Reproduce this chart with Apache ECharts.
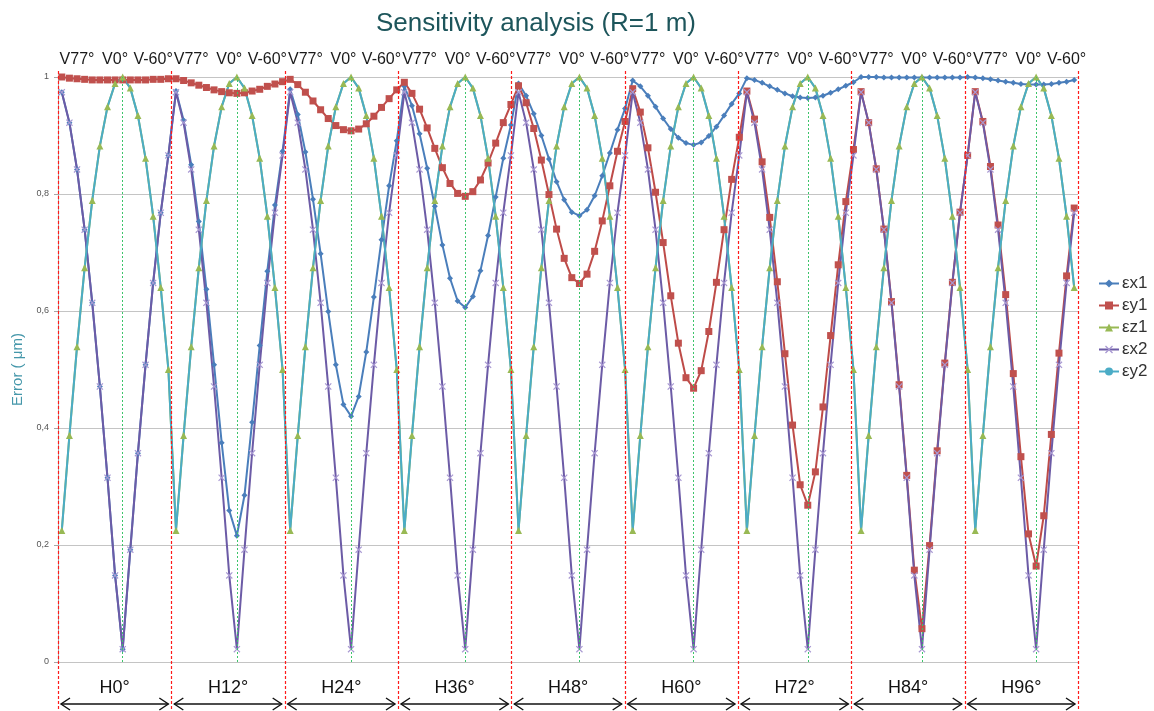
<!DOCTYPE html>
<html>
<head>
<meta charset="utf-8">
<script src="https://cdn.jsdelivr.net/npm/echarts@6/dist/echarts.min.js"></script>
<style>html,body{margin:0;padding:0;background:#fff;}#c{width:1154px;height:711px;}</style>
</head>
<body>
<div id="c"></div>
<script>
// ---- data ----
const hLabels = ['H0°','H12°','H24°','H36°','H48°','H60°','H72°','H84°','H96°'];
const vSamples = ['77°','67°','57°','48°','38°','28°','18°','9°','-1°','-11°','-21°','-31°','-40°','-50°','-60°'];
const vTopLabels = ['','','V77°','','','','','V0°','','','','','V-60°','',''];
const v0Sample = 8;
const yTicks = ['0','0,2','0,4','0,6','0,8','1'];

const ex1 = [
 0.974,0.922,0.842,0.739,0.614,0.471,0.315,0.148,0.022,0.192,0.357,0.508,0.648,0.768,0.866,
 0.976,0.926,0.850,0.753,0.637,0.508,0.375,0.259,0.216,0.285,0.410,0.541,0.668,0.781,0.873,
 0.979,0.936,0.872,0.791,0.698,0.599,0.508,0.440,0.420,0.454,0.530,0.624,0.722,0.814,0.891,
 0.984,0.951,0.903,0.844,0.779,0.713,0.656,0.617,0.606,0.625,0.669,0.729,0.795,0.861,0.918,
 0.989,0.968,0.937,0.900,0.860,0.821,0.790,0.769,0.763,0.773,0.797,0.831,0.870,0.910,0.946,
 0.994,0.984,0.968,0.949,0.929,0.911,0.896,0.887,0.884,0.888,0.899,0.915,0.934,0.954,0.972,
 0.998,0.995,0.990,0.984,0.978,0.972,0.967,0.965,0.964,0.965,0.968,0.973,0.979,0.985,0.991,
 1.000,1.000,1.000,0.999,0.999,0.999,0.999,0.999,0.999,0.999,0.999,0.999,0.999,0.999,1.000,
 0.999,0.998,0.996,0.994,0.992,0.990,0.988,0.987,0.987,0.987,0.988,0.990,0.992,0.995
];
const ey1 = [
 1.000,0.998,0.997,0.996,0.995,0.995,0.995,0.995,0.995,0.995,0.995,0.995,0.996,0.996,0.997,
 0.997,0.994,0.990,0.986,0.982,0.978,0.975,0.973,0.972,0.973,0.976,0.979,0.984,0.988,0.992,
 0.996,0.987,0.974,0.959,0.944,0.929,0.917,0.910,0.908,0.911,0.920,0.933,0.948,0.963,0.978,
 0.991,0.972,0.945,0.913,0.878,0.845,0.818,0.801,0.796,0.804,0.824,0.853,0.887,0.922,0.953,
 0.985,0.956,0.912,0.858,0.799,0.740,0.690,0.657,0.647,0.663,0.702,0.754,0.814,0.873,0.924,
 0.980,0.940,0.879,0.803,0.717,0.626,0.545,0.486,0.468,0.498,0.565,0.649,0.739,0.825,0.897,
 0.976,0.928,0.855,0.760,0.650,0.527,0.405,0.303,0.268,0.325,0.436,0.558,0.679,0.787,0.876,
 0.975,0.922,0.843,0.740,0.616,0.474,0.319,0.157,0.057,0.199,0.361,0.511,0.649,0.769,0.866,
 0.975,0.924,0.847,0.747,0.628,0.493,0.351,0.219,0.164,0.250,0.389,0.528,0.660,0.776
];
const ez1 = [
 0.225,0.387,0.539,0.674,0.789,0.882,0.949,0.989,1.000,0.981,0.934,0.861,0.762,0.640,0.500,
 0.225,0.387,0.539,0.674,0.789,0.882,0.949,0.989,1.000,0.981,0.934,0.861,0.762,0.640,0.500,
 0.225,0.387,0.539,0.674,0.789,0.882,0.949,0.989,1.000,0.981,0.934,0.861,0.762,0.640,0.500,
 0.225,0.387,0.539,0.674,0.789,0.882,0.949,0.989,1.000,0.981,0.934,0.861,0.762,0.640,0.500,
 0.225,0.387,0.539,0.674,0.789,0.882,0.949,0.989,1.000,0.981,0.934,0.861,0.762,0.640,0.500,
 0.225,0.387,0.539,0.674,0.789,0.882,0.949,0.989,1.000,0.981,0.934,0.861,0.762,0.640,0.500,
 0.225,0.387,0.539,0.674,0.789,0.882,0.949,0.989,1.000,0.981,0.934,0.861,0.762,0.640,0.500,
 0.225,0.387,0.539,0.674,0.789,0.882,0.949,0.989,1.000,0.981,0.934,0.861,0.762,0.640,0.500,
 0.225,0.387,0.539,0.674,0.789,0.882,0.949,0.989,1.000,0.981,0.934,0.861,0.762,0.640
];
const ex2 = [
 0.974,0.922,0.842,0.739,0.614,0.471,0.315,0.148,0.022,0.192,0.357,0.508,0.648,0.768,0.866,
 0.974,0.922,0.842,0.739,0.614,0.471,0.315,0.148,0.022,0.192,0.357,0.508,0.648,0.768,0.866,
 0.974,0.922,0.842,0.739,0.614,0.471,0.315,0.148,0.022,0.192,0.357,0.508,0.648,0.768,0.866,
 0.974,0.922,0.842,0.739,0.614,0.471,0.315,0.148,0.022,0.192,0.357,0.508,0.648,0.768,0.866,
 0.974,0.922,0.842,0.739,0.614,0.471,0.315,0.148,0.022,0.192,0.357,0.508,0.648,0.768,0.866,
 0.974,0.922,0.842,0.739,0.614,0.471,0.315,0.148,0.022,0.192,0.357,0.508,0.648,0.768,0.866,
 0.974,0.922,0.842,0.739,0.614,0.471,0.315,0.148,0.022,0.192,0.357,0.508,0.648,0.768,0.866,
 0.974,0.922,0.842,0.739,0.614,0.471,0.315,0.148,0.022,0.192,0.357,0.508,0.648,0.768,0.866,
 0.974,0.922,0.842,0.739,0.614,0.471,0.315,0.148,0.022,0.192,0.357,0.508,0.648,0.768
];
const ey2 = ez1.slice();

// ---- chart ----
const segLen = vSamples.length;
const categories = ex1.map((_, i) => hLabels[Math.floor(i / segLen)] + ' V' + vSamples[i % segLen]);
const v0Lines = hLabels.map((_, s) => ({ xAxis: categories[s * segLen + v0Sample] }));

const FONT = '"Liberation Sans", Arial, sans-serif';
const chart = echarts.init(document.getElementById('c'), null, { renderer: 'canvas' });

const xMarker = 'path://M0,1.2L1.2,0L5,3.8L8.8,0L10,1.2L6.2,5L10,8.8L8.8,10L5,6.2L1.2,10L0,8.8L3.8,5Z';

chart.setOption({
  animation: false,
  backgroundColor: '#ffffff',
  textStyle: { fontFamily: FONT },
  title: {
    text: 'Sensitivity analysis (R=1 m)',
    left: 531, top: 6, textAlign: 'center',
    textStyle: { fontFamily: FONT, fontSize: 26, fontWeight: 'normal', color: '#1D555B' }
  },
  legend: {
    orient: 'vertical', left: 1093, top: 270,
    itemWidth: 20, itemHeight: 10, itemGap: 5,
    textStyle: { fontFamily: FONT, fontSize: 17, color: '#333', padding: [0, 0, 0, -2] },
    data: ['εx1', 'εy1', 'εz1', 'εx2', 'εy2']
  },
  grid: { left: 58, right: 76, top: 77, bottom: 49, containLabel: false, outerBoundsMode: 'none' },
  xAxis: [
    { type: 'category', data: categories, boundaryGap: true,
      axisLine: { show: false }, axisTick: { show: false }, axisLabel: { show: false }, splitLine: { show: false } },
    { type: 'category', data: categories, boundaryGap: true, position: 'top',
      axisLine: { show: false }, axisTick: { show: false }, splitLine: { show: false },
      axisLabel: { interval: 0, margin: 9, fontFamily: FONT, fontSize: 16, color: '#1a1a1a',
        formatter: (v, i) => vTopLabels[i % segLen] || '' } },
    { type: 'value', min: 0, max: hLabels.length, show: false },
    { type: 'category', data: hLabels, boundaryGap: true, position: 'bottom',
      axisLine: { show: false }, axisTick: { show: false }, splitLine: { show: false },
      axisLabel: { interval: 0, margin: 17, fontFamily: FONT, fontSize: 18, color: '#111' } }
  ],
  yAxis: {
    type: 'value', min: 0, max: 1, interval: 0.2,
    name: 'Error ( μm)', nameLocation: 'middle', nameGap: 29,
    nameTextStyle: { fontFamily: FONT, fontSize: 15, color: '#4597AA' },
    axisLine: { show: true, lineStyle: { color: '#A6A6A6', width: 1 } },
    axisTick: { show: true, length: 4, lineStyle: { color: '#A6A6A6' } },
    axisLabel: { margin: 9, fontFamily: FONT, fontSize: 9, color: '#555',
      formatter: (v) => yTicks[Math.round(v / 0.2)] },
    splitLine: { lineStyle: { color: '#C4C4C4', width: 1 } }
  },
  series: [
    { name: 'εx1', type: 'line', data: ex1,
      lineStyle: { width: 2, color: '#4A7EBB' }, itemStyle: { color: '#4A7EBB' },
      symbol: 'diamond', symbolSize: 6, showAllSymbol: true },
    { name: 'εy1', type: 'line', data: ey1,
      lineStyle: { width: 2, color: '#BE4B48' }, itemStyle: { color: '#C0504D' },
      symbol: 'rect', symbolSize: 7, showAllSymbol: true },
    { name: 'εz1', type: 'line', data: ez1,
      lineStyle: { width: 2, color: '#98B954' }, itemStyle: { color: '#98B954' },
      symbol: 'triangle', symbolSize: 7, showAllSymbol: true,
      markLine: { silent: true, symbol: 'none', label: { show: false },
        lineStyle: { color: '#3CC46A', type: [2, 2], width: 1 }, data: v0Lines } },
    { name: 'εx2', type: 'line', data: ex2,
      lineStyle: { width: 2, color: '#6C5BA6' }, itemStyle: { color: '#A898D2' },
      symbol: xMarker, symbolSize: 7, showAllSymbol: true },
    { name: 'εy2', type: 'line', data: ey2,
      lineStyle: { width: 2, color: '#4BACC6' }, itemStyle: { color: '#4BACC6' },
      symbol: 'none' }
  ]
});

function drawDecor() {
  const segX = (s) => {
    const p = chart.convertToPixel({ xAxisIndex: 2 }, s);
    return (typeof p === 'number' && isFinite(p)) ? p : 58 + s * 1020 / hLabels.length;
  };
  const els = [];
  for (let s = 0; s <= hLabels.length; s++) {
    const x = Math.round(segX(s)) + 0.5;
    els.push({ type: 'line', silent: true, z: 5,
      shape: { x1: x, y1: 71, x2: x, y2: 711 },
      style: { stroke: '#FF1A1A', lineWidth: 1.2, lineDash: [3, 2] } });
  }
  const y = 704;
  for (let s = 0; s < hLabels.length; s++) {
    const a = segX(s) + 3, b = segX(s + 1) - 3;
    const st = { stroke: '#111', lineWidth: 1.4, fill: null };
    els.push({ type: 'line', silent: true, shape: { x1: a, y1: y, x2: b, y2: y }, style: st });
    els.push({ type: 'polyline', silent: true, shape: { points: [[a + 9, y - 6], [a, y], [a + 9, y + 6]] }, style: st });
    els.push({ type: 'polyline', silent: true, shape: { points: [[b - 9, y - 6], [b, y], [b - 9, y + 6]] }, style: st });
  }
  chart.setOption({ graphic: { elements: els } });
}
drawDecor();
</script>
</body>
</html>
